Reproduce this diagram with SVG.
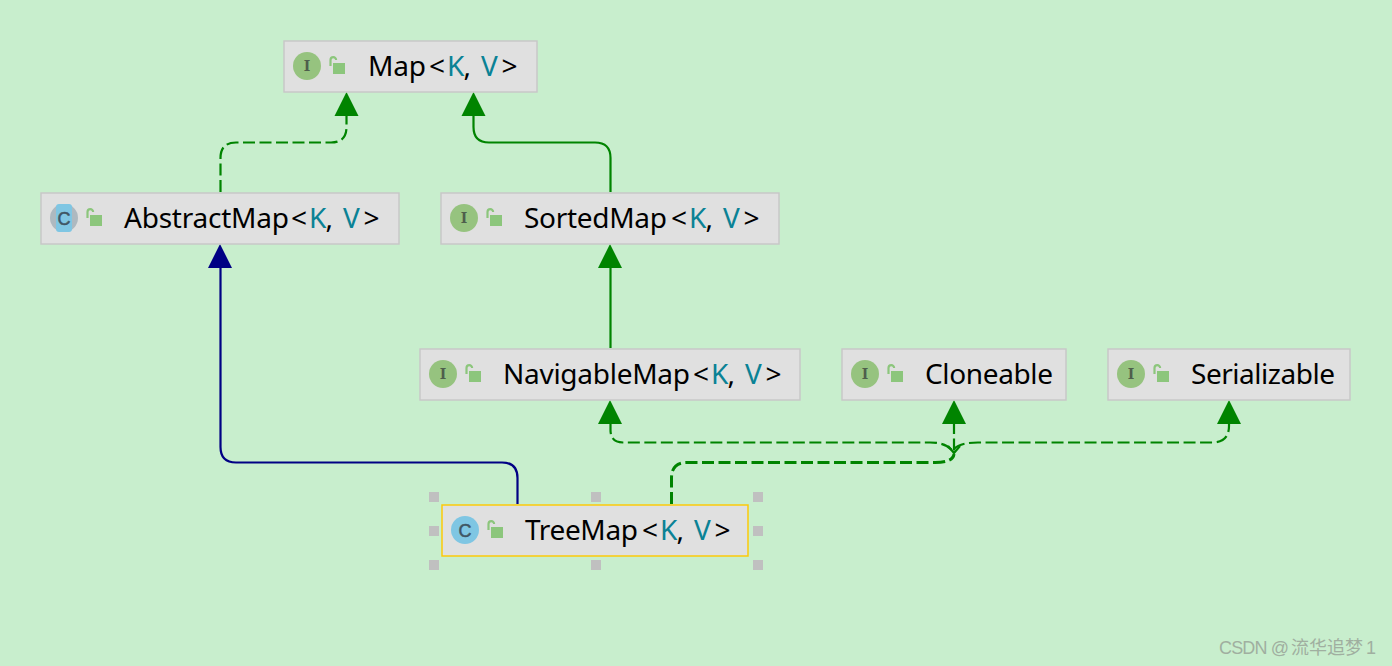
<svg xmlns="http://www.w3.org/2000/svg" width="1392" height="666" viewBox="0 0 1392 666">
<style>
.box{fill:#e0e0e0;stroke:#c8c8c8;stroke-width:1.5}
.sel{fill:#e0e0e0;stroke:#fcca0a;stroke-width:1.5}
.t{font-family:"Noto Sans","Open Sans","Liberation Sans",sans-serif;font-size:28px;fill:#000}
.g{fill:#0a8295}
.ic{font-family:"DejaVu Serif",serif;font-size:14px;font-weight:bold;fill:#4f5f4c;text-anchor:middle}
.ic2{font-family:"Liberation Sans",sans-serif;font-size:18px;fill:#3f5564;stroke:#3f5564;stroke-width:.5;text-anchor:middle}
.lk{fill:#8cc67c}
.lks{fill:none;stroke:#8cc67c;stroke-width:2.2}
.gl{fill:none;stroke:#008400;stroke-width:2.2}
.d{stroke-dasharray:12 4.500}
.bl{fill:none;stroke:#000084;stroke-width:2.2}
.h{fill:#c0c0c0}
.wm{font-family:"Liberation Sans","Noto Sans CJK SC",sans-serif;font-size:18px;fill:#a0afa0}
</style>
<defs>
<g id="lock"><path class="lks" d="M-5.500 0v-6a2.800 2.800 0 0 1 5.600 0"/><rect class="lk" x="-3" y="-3" width="12" height="11"/></g>
<g id="iI"><circle r="14" fill="#96c37f"/><text class="ic" y="5">I</text></g>
<g id="iC"><circle r="14" fill="#7fc6e3"/><text class="ic2" y="6.500">C</text></g>
<g id="iA"><circle r="14" fill="#aeb9c0"/><rect x="-8" y="-14" width="16" height="28" rx="3" fill="#7fc6e3"/><text class="ic2" y="6.500">C</text></g>
<polygon id="ahg" points="0,0 12,24 -12,24" fill="#008400"/>
<polygon id="ahb" points="0,0 12,24 -12,24" fill="#000084"/>
</defs>
<rect width="1392" height="666" fill="#c8eecd"/>
<g id="connectors">
<path class="gl d" d="M220.500 192V158Q220.500 142.500 236 142.500H331Q346.500 142.500 346.500 127V114"/>
<path class="gl" d="M610.500 192V158Q610.500 142.500 595 142.500H489Q473.500 142.500 473.500 127V114"/>
<path class="bl" d="M517.500 504V478Q517.500 462.500 502 462.500H236Q220.500 462.500 220.500 447V266"/>
<path class="gl" d="M610.500 348V266"/>
<path class="gl d" d="M610.500 422V430Q610.500 442.500 623 442.500H930Q948 442.500 954 453"/>
<path class="gl d" d="M954 422V453"/>
<path class="gl d" d="M954 449Q960 442.500 978 442.500H1212Q1229 442.500 1229 426V422"/>
<path class="gl d" style="stroke-width:3" d="M671.500 504V478Q671.500 462.500 687 462.500H935Q953 462.500 954 454"/>
<path class="gl" d="M948 446L954 453L960 446"/>
<use href="#ahg" x="346.500" y="92"/>
<use href="#ahg" x="473.500" y="92"/>
<use href="#ahb" x="220" y="244"/>
<use href="#ahg" x="610" y="244"/>
<use href="#ahg" x="610" y="400"/>
<use href="#ahg" x="954" y="400"/>
<use href="#ahg" x="1229" y="400"/>
</g>
<g id="map"><rect class="box" x="284" y="41" width="253" height="51"/><use href="#iI" x="307" y="66"/><use href="#lock" x="336" y="66"/><text class="t" y="76"><tspan x="368" textLength="58">Map</tspan><tspan x="429">&lt;</tspan><tspan class="g" x="447">K</tspan><tspan x="463.500">,</tspan><tspan class="g" x="481">V</tspan><tspan x="501.500">&gt;</tspan></text></g>
<g id="abstractmap"><rect class="box" x="41" y="193" width="358" height="51"/><use href="#iA" x="64" y="218"/><use href="#lock" x="93" y="218"/><text class="t" y="228"><tspan x="124" textLength="165">AbstractMap</tspan><tspan x="291">&lt;</tspan><tspan class="g" x="309">K</tspan><tspan x="325.500">,</tspan><tspan class="g" x="343">V</tspan><tspan x="363.500">&gt;</tspan></text></g>
<g id="sortedmap"><rect class="box" x="441" y="193" width="338" height="51"/><use href="#iI" x="464" y="218"/><use href="#lock" x="493" y="218"/><text class="t" y="228"><tspan x="524" textLength="143">SortedMap</tspan><tspan x="671">&lt;</tspan><tspan class="g" x="689">K</tspan><tspan x="705.500">,</tspan><tspan class="g" x="723">V</tspan><tspan x="743.500">&gt;</tspan></text></g>
<g id="navigablemap"><rect class="box" x="420" y="349" width="380" height="51"/><use href="#iI" x="443" y="374"/><use href="#lock" x="472" y="374"/><text class="t" y="384"><tspan x="503" textLength="187">NavigableMap</tspan><tspan x="693">&lt;</tspan><tspan class="g" x="711">K</tspan><tspan x="727.500">,</tspan><tspan class="g" x="745">V</tspan><tspan x="765.500">&gt;</tspan></text></g>
<g id="cloneable"><rect class="box" x="842" y="349" width="224" height="51"/><use href="#iI" x="865" y="374"/><use href="#lock" x="894" y="374"/><text class="t" x="925" y="384" textLength="128">Cloneable</text></g>
<g id="serializable"><rect class="box" x="1108" y="349" width="242" height="51"/><use href="#iI" x="1131" y="374"/><use href="#lock" x="1160" y="374"/><text class="t" x="1191" y="384" textLength="144">Serializable</text></g>
<g id="treemap"><rect class="sel" x="442" y="505" width="306" height="51"/><use href="#iC" x="465" y="530"/><use href="#lock" x="494" y="530"/><text class="t" y="540"><tspan x="525" textLength="113">TreeMap</tspan><tspan x="642">&lt;</tspan><tspan class="g" x="660">K</tspan><tspan x="676.500">,</tspan><tspan class="g" x="694">V</tspan><tspan x="714.500">&gt;</tspan></text>
<rect class="h" x="429" y="492" width="10" height="10"/><rect class="h" x="591" y="492" width="10" height="10"/><rect class="h" x="753" y="492" width="10" height="10"/><rect class="h" x="429" y="526" width="10" height="10"/><rect class="h" x="753" y="526" width="10" height="10"/><rect class="h" x="429" y="560" width="10" height="10"/><rect class="h" x="591" y="560" width="10" height="10"/><rect class="h" x="753" y="560" width="10" height="10"/></g>
<text class="wm" y="654"><tspan x="1219" textLength="70">CSDN @</tspan><tspan x="1291">流华追梦</tspan><tspan x="1366">1</tspan></text>
</svg>
